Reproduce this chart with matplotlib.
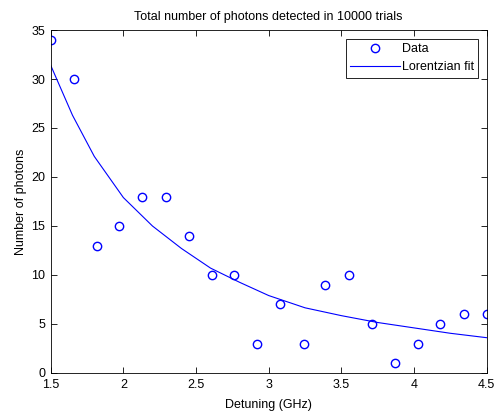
import matplotlib.pyplot as plt

# measured data (detuning in GHz, photon counts)
detuning = [1.50, 1.66, 1.82, 1.97, 2.13, 2.29, 2.45, 2.61, 2.76, 2.92,
            3.08, 3.24, 3.39, 3.55, 3.71, 3.87, 4.03, 4.18, 4.34, 4.50]
photons = [34, 30, 13, 15, 18, 18, 14, 10, 10, 3,
           7, 3, 9, 10, 5, 1, 3, 5, 6, 6]

# fitted curve
fit_x = [1.5, 1.65, 1.8, 2.0, 2.2, 2.4, 2.6, 2.8, 3.0, 3.25, 3.5, 3.75, 4.0, 4.25, 4.5]
fit_y = [31.4, 26.3, 22.1, 17.9, 15.0, 12.7, 10.7, 9.25, 7.9, 6.65, 5.85, 5.15, 4.6, 4.05, 3.6]

plt.rcParams['font.family'] = ['Liberation Sans', 'DejaVu Sans']
plt.rcParams['font.size'] = 9

fig = plt.figure(figsize=(4.95, 4.11), dpi=100)
ax = fig.add_axes([0.1024, 0.0925, 0.881, 0.8345])

ax.plot(detuning, photons, 'o', mfc='none', mec='blue', ms=6, mew=1, label='Data')
ax.plot(fit_x, fit_y, '-', color='blue', lw=0.8, label='Lorentzian fit')

ax.set_xlim(1.5, 4.5)
ax.set_ylim(0, 35)
ax.set_xticks([1.5, 2, 2.5, 3, 3.5, 4, 4.5])
ax.set_xticklabels(['1.5', '2', '2.5', '3', '3.5', '4', '4.5'])
ax.set_yticks(range(0, 36, 5))
ax.tick_params(direction='in', top=True, right=True, length=4, width=0.6, labelsize=9)
ax.tick_params(axis='x', pad=4)
ax.tick_params(axis='y', pad=4)
for s in ax.spines.values():
    s.set_linewidth(0.6)

ax.set_title('Total number of photons detected in 10000 trials', fontsize=9, pad=7)
ax.set_xlabel('Detuning (GHz)', fontsize=9, labelpad=6)
ax.set_ylabel('Number of photons', fontsize=9, labelpad=3)

leg = ax.legend(loc='upper right', fancybox=False, framealpha=1, edgecolor='black',
                fontsize=9, borderpad=0.35, labelspacing=0.5, handlelength=4.0,
                handletextpad=0.1, borderaxespad=0.7)
leg.get_frame().set_linewidth(0.6)

fig.savefig('out.png', dpi=100)
